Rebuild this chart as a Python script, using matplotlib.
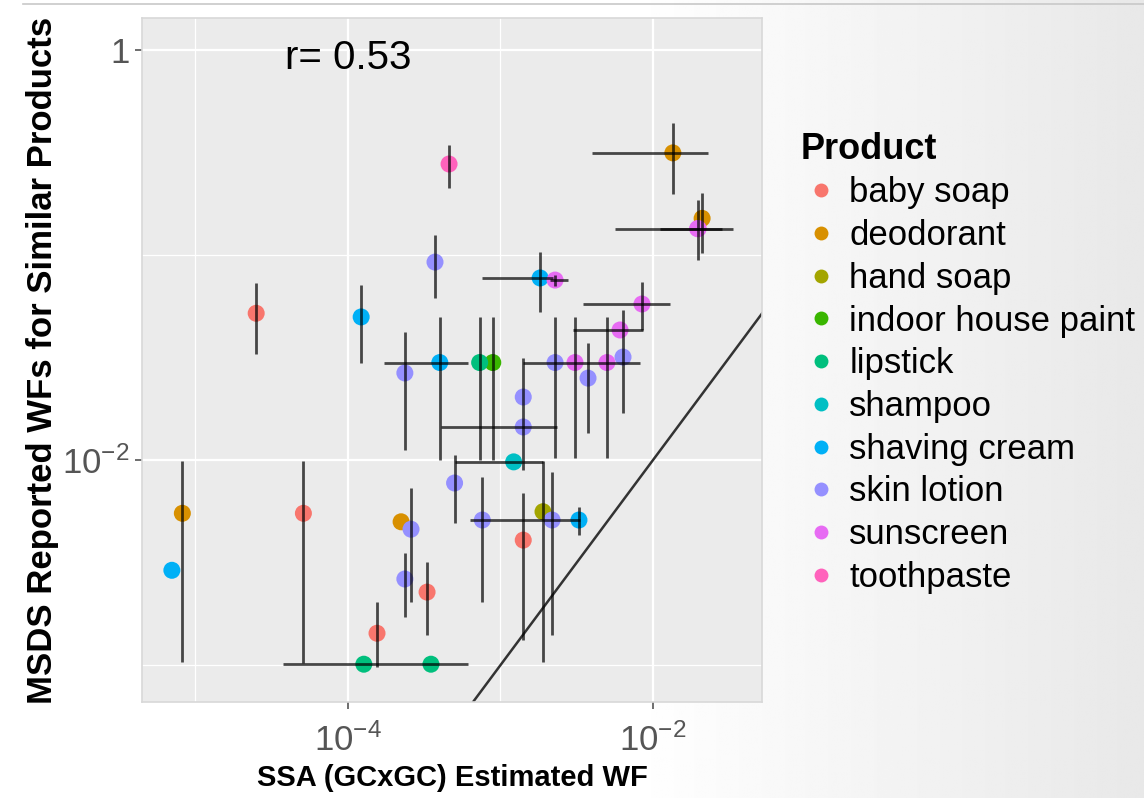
import numpy as np
import matplotlib.pyplot as plt
from matplotlib.lines import Line2D

plt.rcParams['font.family'] = ['Liberation Sans', 'DejaVu Sans']
plt.rcParams['mathtext.fontset'] = 'custom'
plt.rcParams['mathtext.rm'] = 'Liberation Sans'

products = ['baby soap', 'deodorant', 'hand soap', 'indoor house paint', 'lipstick',
            'shampoo', 'shaving cream', 'skin lotion', 'sunscreen', 'toothpaste']
colors = ['#F8766D', '#D89000', '#A3A500', '#39B600', '#00BF7D',
          '#00BFC4', '#00B0F6', '#9590FF', '#E76BF3', '#FF62BC']

nan = np.nan
product = ['baby soap', 'baby soap', 'baby soap', 'baby soap', 'baby soap',
           'deodorant', 'deodorant', 'deodorant', 'deodorant',
           'hand soap', 'indoor house paint',
           'lipstick', 'lipstick', 'lipstick', 'shampoo',
           'shaving cream', 'shaving cream', 'shaving cream', 'shaving cream', 'shaving cream',
           'skin lotion', 'skin lotion', 'skin lotion', 'skin lotion', 'skin lotion', 'skin lotion',
           'skin lotion', 'skin lotion', 'skin lotion', 'skin lotion', 'skin lotion', 'skin lotion',
           'sunscreen', 'sunscreen', 'sunscreen', 'sunscreen', 'sunscreen', 'sunscreen', 'sunscreen',
           'toothpaste']
# SSA (GCxGC) estimated weight fraction and its range
wf_est = [2.5e-5, 5.1e-5, 3.3e-4, 1.55e-4, 1.41e-3,
          8.2e-6, 1.35e-2, 2.1e-2, 2.23e-4,
          1.9e-3, 8.9e-4,
          7.3e-4, 1.27e-4, 3.5e-4, 1.22e-3,
          7.0e-6, 1.22e-4, 4.0e-4, 1.82e-3, 3.27e-3,
          3.72e-4, 2.36e-4, 1.41e-3, 1.41e-3, 5.0e-4, 7.6e-4,
          2.18e-3, 2.59e-4, 2.36e-4, 2.28e-3, 3.75e-3, 6.36e-3,
          1.96e-2, 1.98e-2, 2.28e-3, 8.47e-3, 6.08e-3, 3.08e-3, 4.99e-3,
          4.6e-4]
est_lo = [nan, nan, nan, nan, nan,
          nan, 4.0e-3, nan, nan,
          nan, nan,
          nan, 3.75e-5, nan, 5.0e-4,
          nan, nan, 1.71e-4, 7.6e-4, nan,
          nan, nan, nan, 4.1e-4, nan, 6.3e-4,
          nan, nan, nan, 1.41e-3, nan, nan,
          5.6e-3, 1.11e-2, 2.1e-3, 3.48e-3, 3.0e-3, nan, nan,
          nan]
est_hi = [nan, nan, nan, nan, nan,
          nan, 2.3e-2, nan, nan,
          nan, nan,
          nan, 6.1e-4, nan, 1.9e-3,
          nan, nan, 6.1e-4, 2.2e-3, nan,
          nan, nan, nan, 2.35e-3, nan, 3.3e-3,
          nan, nan, nan, 8.2e-3, nan, nan,
          3.35e-2, 2.83e-2, 2.77e-3, 1.29e-2, 8.6e-3, nan, nan,
          nan]
# MSDS reported weight fraction for similar products and its range
wf_msds = [0.052, 0.0055, 0.00227, 0.00143, 0.00407,
           0.0055, 0.315, 0.151, 0.005,
           0.0056, 0.0299,
           0.0299, 0.00101, 0.00101, 0.0098,
           0.0029, 0.0499, 0.0299, 0.0773, 0.0051,
           0.0924, 0.0266, 0.0203, 0.0145, 0.00773, 0.0051,
           0.0051, 0.0046, 0.00263, 0.0299, 0.0251, 0.0318,
           0.1345, 0.1345, 0.0755, 0.0577, 0.0431, 0.0299, 0.0299,
           0.278]
msds_lo = [0.033, 0.00102, 0.0014, 0.00098, 0.00132,
           0.00103, 0.1985, 0.102, nan,
           0.00104, 0.0100,
           0.0100, nan, nan, nan,
           nan, 0.0299, 0.0100, 0.0527, 0.00431,
           0.0617, 0.0112, 0.00894, nan, 0.00493, 0.00202,
           0.0014, 0.00202, 0.00171, 0.0102, 0.01355, 0.0169,
           0.0946, nan, 0.071, 0.0431, nan, 0.0102, 0.0102,
           0.212]
msds_hi = [0.073, 0.0099, 0.00318, 0.00202, 0.0069,
           0.0099, 0.441, 0.2005, nan,
           0.0099, 0.0499,
           0.0499, nan, nan, nan,
           nan, 0.0714, 0.0499, 0.1035, 0.0059,
           0.125, 0.0421, 0.0315, nan, 0.01057, 0.00826,
           0.00873, 0.0073, 0.00352, 0.0499, 0.0372, 0.054,
           0.185, nan, 0.08, 0.0738, nan, 0.0499, 0.0499,
           0.344]
r_value = 0.53

x = np.array(wf_est)
y = np.array(wf_msds)
xlo, xhi = np.array(est_lo), np.array(est_hi)
ylo, yhi = np.array(msds_lo), np.array(msds_hi)
cmap = dict(zip(products, colors))

fig = plt.figure(figsize=(11.44, 7.98), dpi=100)

# soft grey slide background on the right
bg = fig.add_axes([0, 0, 1, 1], zorder=-10)
grad = np.clip(1.0 - 0.09 * (np.linspace(0, 1, 400) - 0.55) / 0.45, 0.91, 1.0)
bg.imshow(np.tile(grad, (10, 1)), cmap='gray', vmin=0, vmax=1, aspect='auto',
          extent=[0, 1, 0, 1])
bg.plot([0.02, 1], [0.995, 0.995], color='#c8c8c8', lw=1.2)
bg.set_xlim(0, 1)
bg.set_ylim(0, 1)
bg.axis('off')

ax = fig.add_axes([0.1241, 0.1203, 0.5420, 0.8571])
ax.set_facecolor('#EBEBEB')
ax.set_xscale('log')
ax.set_yscale('log')
ax.set_xlim(10 ** -5.351, 10 ** -1.285)
ax.set_ylim(10 ** -3.18, 10 ** 0.156)

ax.set_xticks([1e-4, 1e-2])
ax.set_xticklabels([r'$\mathregular{10^{-4}}$', r'$\mathregular{10^{-2}}$'])
ax.set_xticks([1e-5, 1e-3], minor=True)
ax.set_yticks([1, 1e-2])
ax.set_yticklabels(['1', r'$\mathregular{10^{-2}}$'])
ax.set_yticks([1e-1, 1e-3], minor=True)
ax.xaxis.set_minor_formatter(plt.NullFormatter())
ax.yaxis.set_minor_formatter(plt.NullFormatter())
ax.tick_params(which='major', length=5, width=1.2, color='#555555',
               labelsize=25, labelcolor='#555555', pad=4)
ax.tick_params(axis='x', which='major', pad=10)
ax.tick_params(which='minor', length=0)
ax.grid(True, which='major', color='white', lw=1.6)
ax.grid(True, which='minor', color='white', lw=0.9)
ax.set_axisbelow(True)
for sp in ax.spines.values():
    sp.set_color('#d8d8d8')
    sp.set_linewidth(1.2)

# 1:1 line
ax.axline((1e-3, 1e-3), (1e-2, 1e-2), color='#333333', lw=1.8, zorder=2)

for p in products:
    m = np.array([q == p for q in product])
    ax.scatter(x[m], y[m], s=150, color=cmap[p], edgecolors='none', zorder=3)

hx = ~np.isnan(xlo)
ax.hlines(y[hx], xlo[hx], xhi[hx], color='black', alpha=0.7, lw=2.0, zorder=4)
vy = ~np.isnan(ylo)
ax.vlines(x[vy], ylo[vy], yhi[vy], color='black', alpha=0.7, lw=2.0, zorder=4)

ax.annotate(f'r= {r_value}', xy=(1e-4, 1), xytext=(0, -6), textcoords='offset points',
            fontsize=29, ha='center', va='center', zorder=5)

ax.set_xlabel('SSA (GCxGC) Estimated WF', fontsize=21, fontweight='bold', labelpad=5)
ax.set_ylabel('MSDS Reported WFs for Similar Products', fontsize=25,
              fontweight='bold', labelpad=2)

handles = [Line2D([], [], ls='none', marker='o', markersize=10,
                  markerfacecolor=c, markeredgecolor='none') for c in colors]
leg = fig.legend(handles, products, loc='upper left', bbox_to_anchor=(0.700, 0.835),
                 frameon=False, fontsize=25, title='Product', alignment='left',
                 title_fontproperties={'weight': 'bold', 'size': 26},
                 handlelength=1.15, handletextpad=0.25, labelspacing=0.28,
                 borderpad=0, borderaxespad=0)

fig.savefig('out.png', dpi=100)
